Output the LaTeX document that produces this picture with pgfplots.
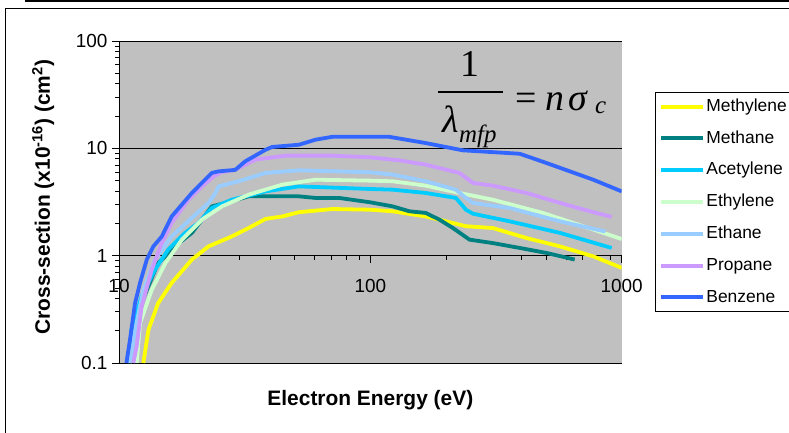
\documentclass[border=0pt]{standalone}
\usepackage{fontspec}
\setmainfont{Liberation Sans}
\newfontfamily\tms{Liberation Serif}
\usepackage{pgfplots}
\pgfplotsset{compat=1.18}
\definecolor{excelgray}{RGB}{192,192,192}
\definecolor{cMethylene}{RGB}{255,255,0}
\definecolor{cMethane}{RGB}{0,128,128}
\definecolor{cAcetylene}{RGB}{0,204,255}
\definecolor{cEthylene}{RGB}{204,255,204}
\definecolor{cEthane}{RGB}{153,204,255}
\definecolor{cPropane}{RGB}{204,153,255}
\definecolor{cBenzene}{RGB}{51,102,255}
\begin{document}
\begin{tikzpicture}
\useasboundingbox (0bp,0bp) rectangle (789bp,433bp);
% outer frame
\draw[black, line width=1bp] (5.5bp,-10bp) -- (5.5bp,424.5bp) -- (800bp,424.5bp);
\draw[black, line width=1.5bp] (25bp,432.2bp) -- (800bp,432.2bp);
\begin{axis}[
  at={(119bp,70bp)}, anchor=south west,
  scale only axis, width=502.7bp, height=322bp,
  xmode=log, ymode=log,
  xmin=10, xmax=1000, ymin=0.1, ymax=100,
  axis x line=middle, axis y line=left,
  hide obscured x ticks=false, hide obscured y ticks=false,
  axis line style={-, black, line width=0.8bp},
  axis background/.style={fill=excelgray},
  xtick={10,100,1000}, xticklabels={10,100,1000},
  ytick={0.1,1,10,100}, yticklabels={0.1,1,10,100},
  tick align=outside,
  major tick length=7bp, minor tick length=4bp,
  tick style={black, line width=0.7bp},
  ymajorgrids, major grid style={black, line width=0.7bp},
  /pgf/number format/assume math mode=true,
  tick label style={font=\fontsize{19}{21}\selectfont},
  xticklabel style={yshift=-13bp},
  yticklabel style={xshift=-1bp},
  xlabel={Electron Energy (eV)},
  ylabel={Cross-section (x10\textsuperscript{-16}) (cm\textsuperscript{2})},
  every axis x label/.style={at={(axis description cs:0.5,-0.115)}, anchor=center,
    font=\bfseries\fontsize{21}{24}\selectfont},
  every axis y label/.style={at={(axis description cs:-0.151,0.515)}, anchor=center, rotate=90,
    font=\bfseries\fontsize{21}{24}\selectfont},
  legend style={at={(axis description cs:1.0662,0.8416)}, anchor=north west,
    draw=black, line width=0.8bp, fill=white, font=\fontsize{17.5}{21}\selectfont,
    inner xsep=3.5bp, inner ysep=4.5bp, row sep=12.3bp,
    nodes={text height=12.8bp, text depth=3.7bp, inner sep=1.5bp}},
  legend cell align=left,
  legend image code/.code={\draw[#1, line width=4bp] (0bp,0bp) -- (42bp,0bp);},
  every axis plot/.append style={line width=3.8bp, line join=round, no marks},
]
\addplot[cMethylene] coordinates {(12.5,0.1) (13.1,0.204) (14.3,0.36) (16.2,0.557) (19.5,0.92) (22.7,1.22) (28.1,1.51) (32.8,1.81) (38.3,2.2) (44.6,2.32) (52,2.54) (70.6,2.72) (100,2.68) (122.6,2.59) (166,2.32) (200,2.09) (240,1.88) (307,1.81) (418,1.46) (568,1.22) (771,0.985) (1000,0.77)};
\addlegendentry{Methylene}
\addplot[cMethane] coordinates {(11.0,0.1) (11.5,0.2) (12.5,0.4) (14.3,0.855) (15.3,0.985) (17.3,1.31) (19.5,1.63) (21.4,2.17) (23.4,2.88) (26.5,3.1) (32.8,3.57) (52,3.57) (60.6,3.45) (75.1,3.45) (100,3.14) (122.6,2.88) (143,2.59) (166,2.5) (188,2.17) (213,1.81) (248,1.41) (307,1.31) (393,1.18) (502,1.06) (650,0.92)};
\addlegendentry{Methane}
\addplot[cAcetylene] coordinates {(10.9,0.1) (11.2,0.204) (12.3,0.42) (13.9,0.74) (15.7,1.14) (18.3,1.63) (20.7,2.02) (23.4,2.78) (28.1,3.32) (38.3,3.97) (52,4.42) (100,4.18) (122.6,4.12) (166,3.84) (219,3.45) (240,2.68) (256,2.46) (358,2.09) (568,1.63) (912,1.18)};
\addlegendentry{Acetylene}
\addplot[cEthylene] coordinates {(11.76,0.1) (12.13,0.236) (13.5,0.48) (15.3,0.855) (17.8,1.41) (21.4,2.17) (25.7,2.88) (32.8,3.7) (44.6,4.59) (60.6,5.1) (100,5.0) (122.6,4.93) (166,4.49) (226,3.84) (307,3.32) (486,2.5) (771,1.75) (1000,1.43)};
\addlegendentry{Ethylene}
\addplot[cEthane] coordinates {(11.06,0.1) (11.6,0.204) (12.5,0.48) (13.9,0.92) (16.2,1.51) (19.5,2.25) (22.7,3.1) (24.2,3.84) (24.9,4.42) (29.9,4.93) (38.3,5.9) (52,6.24) (100,5.98) (122.6,5.69) (166,4.93) (219,4.12) (240,3.45) (256,3.1) (358,2.78) (568,2.09) (861,1.68)};
\addlegendentry{Ethane}
\addplot[cPropane] coordinates {(11.4,0.1) (11.76,0.143) (12.3,0.337) (13.5,0.74) (14.8,1.31) (16.2,2.02) (18.9,3.32) (21.4,4.42) (23.8,5.48) (25.5,6.0) (29,6.3) (34.9,7.85) (46,8.55) (70.6,8.55) (100,8.24) (130,7.73) (166,7.05) (226,5.9) (256,4.76) (307,4.49) (418,3.84) (568,3.10) (771,2.54) (912,2.30)};
\addlegendentry{Propane}
\addplot[cBenzene] coordinates {(10.7,0.1) (11.06,0.165) (11.58,0.36) (12.13,0.56) (12.9,0.92) (13.7,1.22) (14.8,1.51) (16.2,2.32) (19.5,3.84) (23.4,5.9) (24.9,6.1) (29.0,6.3) (31.8,7.57) (38.3,9.7) (40.7,10.3) (52,10.8) (60.6,12.05) (70.6,12.8) (100,12.8) (118.9,12.8) (166,11.2) (233,9.58) (393,8.9) (502,7.3) (771,5.1) (1000,3.97)};
\addlegendentry{Benzene}
\end{axis}
% formula
\node[anchor=base, font=\tms\fontsize{38}{40}\selectfont, inner sep=0pt] at (470bp,356bp) {1};
\draw[black, line width=1.5bp] (438bp,341bp) -- (503bp,341bp);
\node[anchor=base west, font=\tms\itshape\fontsize{38}{40}\selectfont, inner sep=0pt] at (442bp,300bp) {λ};
\node[anchor=base west, font=\tms\itshape\fontsize{25}{27}\selectfont, inner sep=0pt] at (459bp,290bp) {mfp};
\node[anchor=base west, font=\tms\fontsize{38}{40}\selectfont, inner sep=0pt] at (515bp,322bp) {=};
\node[anchor=base west, font=\tms\itshape\fontsize{38}{40}\selectfont, inner sep=0pt] at (545bp,322bp) {n\kern4bp σ};
\node[anchor=base west, font=\tms\itshape\fontsize{25}{27}\selectfont, inner sep=0pt] at (595bp,319bp) {c};
\end{tikzpicture}
\end{document}
